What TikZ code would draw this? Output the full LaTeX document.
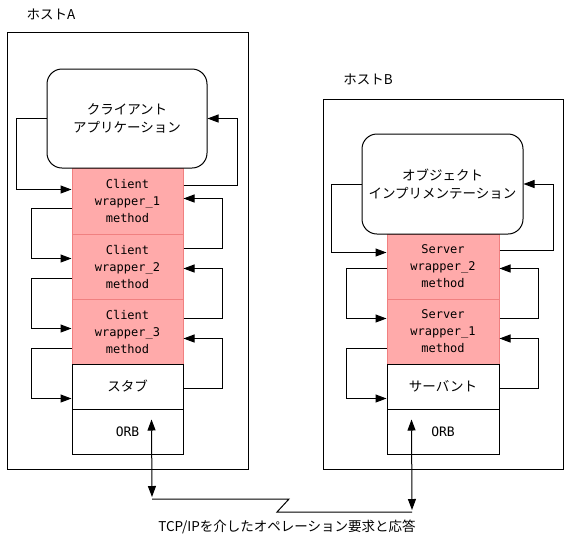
\documentclass[tikz,border=0pt]{standalone}
\usepackage{fontspec}
\setmainfont{Noto Sans CJK JP}
\newfontfamily\monofont{DejaVu Sans Mono}
\usetikzlibrary{arrows.meta,calc}
\definecolor{pinkfill}{HTML}{FFAAAA}
\definecolor{pinkline}{HTML}{F08080}
\begin{document}
\begin{tikzpicture}[x=1pt,y=-1pt,line width=1pt,
  hostbox/.style={draw,rectangle,inner sep=0pt},
  appbox/.style={draw,rectangle,rounded corners=15pt,fill=white,inner sep=0pt,align=center,font=\fontsize{13.5}{18}\selectfont},
  wrapbox/.style={draw=pinkline,fill=pinkfill,rectangle,inner sep=0pt,minimum width=111pt,align=center,font=\monofont\fontsize{12}{17}\selectfont},
  plainbox/.style={draw,fill=white,rectangle,inner sep=0pt,minimum width=111pt,minimum height=45pt,align=center},
  jtext/.style={font=\fontsize{13.5}{18}\selectfont},
  orbtext/.style={font=\monofont\fontsize{13}{17}\selectfont},
  lbl/.style={font=\fontsize{13.5}{18}\selectfont,inner sep=0pt},
  conn/.style={draw,-{Triangle[length=11pt,width=8pt]}},
  dconn/.style={draw,{Triangle[length=11pt,width=8pt]}-{Triangle[length=11pt,width=8pt]}},
  plain/.style={draw}
]
\useasboundingbox (0,0) rectangle (568,542);

% hosts
\node[hostbox,minimum width=241pt,minimum height=437pt] (hostA) at (127.5,250.5) {};
\node[lbl] (labA) at (51,14) {ホストA};
\node[hostbox,minimum width=240pt,minimum height=370pt] (hostB) at (443,284) {};
\node[lbl] (labB) at (368,79) {ホストB};

% host A stack
\node[wrapbox,minimum height=66pt] (w1) at (127.5,201) {Client\\wrapper\_1\\method};
\node[wrapbox,minimum height=65pt] (w2) at (127.5,266.5) {Client\\wrapper\_2\\method};
\node[wrapbox,minimum height=65pt] (w3) at (127.5,331.5) {Client\\wrapper\_3\\method};
\node[plainbox,jtext] (stub) at (127.5,386.5) {スタブ};
\node[plainbox,orbtext] (orbA) at (127.5,431.5) {ORB};
\node[appbox,minimum width=160pt,minimum height=99pt] (app) at (127,118.5) {クライアント\\アプリケーション};

% host B stack
\node[wrapbox,minimum width=112pt,minimum height=65pt] (s2) at (443,266.5) {Server\\wrapper\_2\\method};
\node[wrapbox,minimum width=112pt,minimum height=65pt] (s1) at (443,331.5) {Server\\wrapper\_1\\method};
\node[plainbox,jtext,minimum width=112pt] (serv) at (443,386.5) {サーバント};
\node[plainbox,orbtext,minimum width=112pt] (orbB) at (443,431.5) {ORB};
\node[appbox,minimum width=161pt,minimum height=100pt] (impl) at (442.5,184) {オブジェクト\\インプリメンテーション};

% host A left connectors
\draw[conn] (app.west) -- ++(-30,0) |- ($(w1.north west)+(0,22)$);
\draw[conn] ($(w1.north west)+(0,41)$) -- ++(-40,0) |- ($(w2.north west)+(0,25)$);
\draw[conn] ($(w2.north west)+(0,45)$) -- ++(-40,0) |- ($(w3.north west)+(0,30)$);
\draw[conn] ($(w3.north west)+(0,50)$) -- ++(-40,0) |- ($(stub.north west)+(0,35)$);
% host A right connectors
\draw[conn] ($(w1.north east)+(0,18)$) -- ++(54,0) |- (app.east);
\draw[conn] ($(w2.north east)+(0,15)$) -- ++(39,0) |- ($(w1.north east)+(0,31)$);
\draw[conn] ($(w3.north east)+(0,20)$) -- ++(39,0) |- ($(w2.north east)+(0,35)$);
\draw[conn] ($(stub.north east)+(0,25)$) -- ++(39,0) |- ($(w3.north east)+(0,40)$);

% host B left connectors
\draw[conn] (impl.west) -- ++(-30,0) |- ($(s2.north west)+(0,19)$);
\draw[conn] ($(s2.north west)+(0,35)$) -- ++(-40,0) |- ($(s1.north west)+(0,20)$);
\draw[conn] ($(s1.north west)+(0,50)$) -- ++(-40,0) |- ($(serv.north west)+(0,35)$);
% host B right connectors
\draw[conn] ($(s2.north east)+(0,17)$) -- ++(54,0) |- (impl.east);
\draw[conn] ($(s1.north east)+(0,20)$) -- ++(39,0) |- ($(s2.north east)+(0,35)$);
\draw[conn] ($(serv.north east)+(0,25)$) -- ++(39,0) |- ($(s1.north east)+(0,40)$);

% network
\coordinate (netA) at (152,499);
\coordinate (netAtip) at (152,497);
\coordinate (netB) at (412,512);
\coordinate (netBtip) at (412,510);
\draw[dconn] (netAtip) -- ($(orbA.north west)+(80,11)$);
\draw[dconn] (netBtip) -- ($(orbB.north west)+(25,11)$);
\draw[plain] (netA) -- (289,499) -- (277,512) -- (netB);
\node[lbl] (tcp) at (287,527) {TCP/IPを介したオペレーション要求と応答};
\end{tikzpicture}
\end{document}
